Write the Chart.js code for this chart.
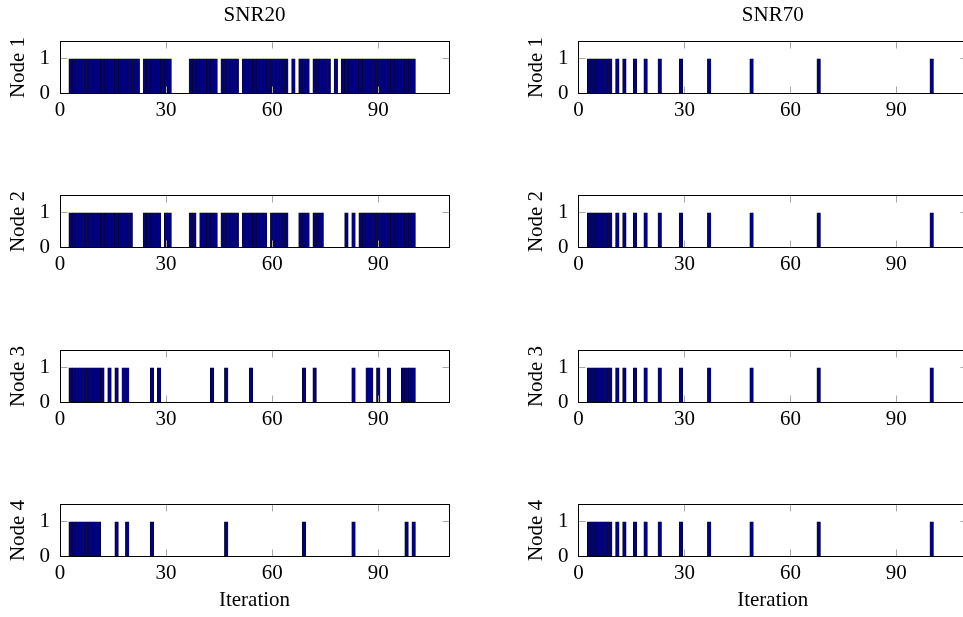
<!DOCTYPE html>
<html>
<head>
<meta charset="utf-8">
<script src="https://cdn.jsdelivr.net/npm/chart.js@4.4.0/dist/chart.umd.min.js"></script>
<style>
  html, body { margin: 0; padding: 0; background: #fff; overflow: hidden; }
  body { width: 963px; height: 617px; position: relative; }
  canvas { position: absolute; }
</style>
</head>
<body>
<script>
// Iterations at which each node was active (bar value = 1)
const snr20Node1 = [3,4,5,6,7,8,9,10,11,12,13,14,15,16,17,18,19,20,21,22,
  24,25,26,27,28,29,30,31, 37,38,39,40,41,42,43,44, 46,47,48,49,50,
  52,53,54,55,56,57,58,59,60,61,62,63,64, 66, 68,69,70, 72,73,74,75,76, 78,
  80,81,82,83,84,85,86,87,88,89,90,91,92,93,94,95,96,97,98,99,100];
const snr20Node2 = [3,4,5,6,7,8,9,10,11,12,13,14,15,16,17,18,19,20,
  24,25,26,27,28, 30,31, 37,38, 40,41,42,43,44, 46,47,48,49,50,
  52,53,54,55,56,57,58, 60,61,62,63,64, 68,69,70, 72,73,74, 81, 83,
  85,86,87,88,89,90,91,92,93,94,95,96,97,98,99,100];
const snr20Node3 = [3,4,5,6,7,8,9,10,11,12, 14, 16, 18,19, 26, 28, 43, 47, 54,
  69, 72, 83, 87,88, 90, 93, 97,98,99,100];
const snr20Node4 = [3,4,5,6,7,8,9,10,11, 16, 19, 26, 47, 69, 83, 98, 100];
const snr70Node1 = [3,4,5,6,7,8,9, 11, 13, 16, 19, 23, 29, 37, 49, 68, 100];
const snr70Node2 = [3,4,5,6,7,8,9, 11, 13, 16, 19, 23, 29, 37, 49, 68, 100];
const snr70Node3 = [3,4,5,6,7,8,9, 11, 13, 16, 19, 23, 29, 37, 49, 68, 100];
const snr70Node4 = [3,4,5,6,7,8,9, 11, 13, 16, 19, 23, 29, 37, 49, 68, 100];

const barValue = 1;
const xTicks = [0, 30, 60, 90];
const yTicks = [0, 1];
const xMax = 110, yMax = 1.5;
const columnTitles = ['SNR20', 'SNR70'];
const nodeLabels = ['Node 1', 'Node 2', 'Node 3', 'Node 4'];
const xLabel = 'Iteration';

const panels = [
  [snr20Node1, snr70Node1],
  [snr20Node2, snr70Node2],
  [snr20Node3, snr70Node3],
  [snr20Node4, snr70Node4]
];

const font = { family: '"Liberation Serif", serif', size: 21 };
const canvasTops = [0, 154, 309, 463];
const canvasLefts = [0, 518];

// box around the plot and small gray tick marks inside (pgfplots look)
const boxPlugin = {
  id: 'box',
  afterDatasetsDraw(chart) {
    const { ctx, chartArea: a, scales: { x, y } } = chart;
    const L = Math.floor(a.left) + 0.5, R = Math.floor(a.right) + 0.5;
    const T = Math.floor(a.top) + 0.5, B = Math.floor(a.bottom) + 0.5;
    ctx.save();
    ctx.lineWidth = 1;
    ctx.strokeStyle = '#a8a8a8';
    ctx.beginPath();
    xTicks.forEach(v => {
      const px = Math.floor(x.getPixelForValue(v)) + 0.5;
      ctx.moveTo(px, B); ctx.lineTo(px, B - 7);
      ctx.moveTo(px, T); ctx.lineTo(px, T + 7);
    });
    yTicks.forEach(v => {
      const py = Math.floor(y.getPixelForValue(v)) + 0.5;
      ctx.moveTo(L, py); ctx.lineTo(L + 7, py);
      ctx.moveTo(R, py); ctx.lineTo(R - 7, py);
    });
    ctx.stroke();
    ctx.strokeStyle = '#000';
    ctx.strokeRect(L, T, R - L, B - T);
    ctx.restore();
  }
};

panels.forEach((row, r) => {
  row.forEach((iters, c) => {
    const canvas = document.createElement('canvas');
    canvas.width = 460;
    canvas.height = 154;
    canvas.style.left = canvasLefts[c] + 'px';
    canvas.style.top = canvasTops[r] + 'px';
    document.body.appendChild(canvas);

    new Chart(canvas, {
      type: 'bar',
      data: {
        datasets: [{
          data: iters.map(it => ({ x: it, y: barValue })),
          backgroundColor: 'rgb(0, 0, 128)',
          borderColor: '#000',
          borderWidth: 0.5,
          barPercentage: 1,
          categoryPercentage: 1
        }]
      },
      options: {
        responsive: false,
        animation: false,
        layout: { padding: { top: r === 0 ? 0 : 41.5, right: 11, bottom: 0, left: 0 } },
        plugins: {
          legend: { display: false },
          tooltip: { enabled: false },
          title: {
            display: r === 0,
            text: columnTitles[c],
            fullSize: false,
            color: '#000',
            font: { ...font, weight: 'normal' },
            padding: { top: 2.4, bottom: 13.9 }
          }
        },
        scales: {
          x: {
            type: 'linear',
            min: 0,
            max: xMax,
            offset: false,
            grid: { display: false, drawTicks: false },
            border: { display: false },
            afterBuildTicks: s => { s.ticks = xTicks.map(v => ({ value: v })); },
            afterFit: s => { s.height = 60.5; },
            ticks: { color: '#000', font, padding: 4, maxRotation: 0, autoSkip: false },
            title: { display: r === 3, text: xLabel, color: '#000', font, padding: { top: 0, bottom: 4 } }
          },
          y: {
            min: 0,
            max: yMax,
            grid: { display: false, drawTicks: false },
            border: { display: false },
            afterBuildTicks: s => { s.ticks = yTicks.map(v => ({ value: v })); },
            afterFit: s => { s.width = c === 0 ? 60 : 60.5; },
            ticks: { color: '#000', font, padding: 10 },
            title: { display: true, text: nodeLabels[r], color: '#000', font, padding: { top: 6, bottom: 0 } }
          }
        }
      },
      plugins: [boxPlugin]
    });
  });
});
</script>
</body>
</html>
